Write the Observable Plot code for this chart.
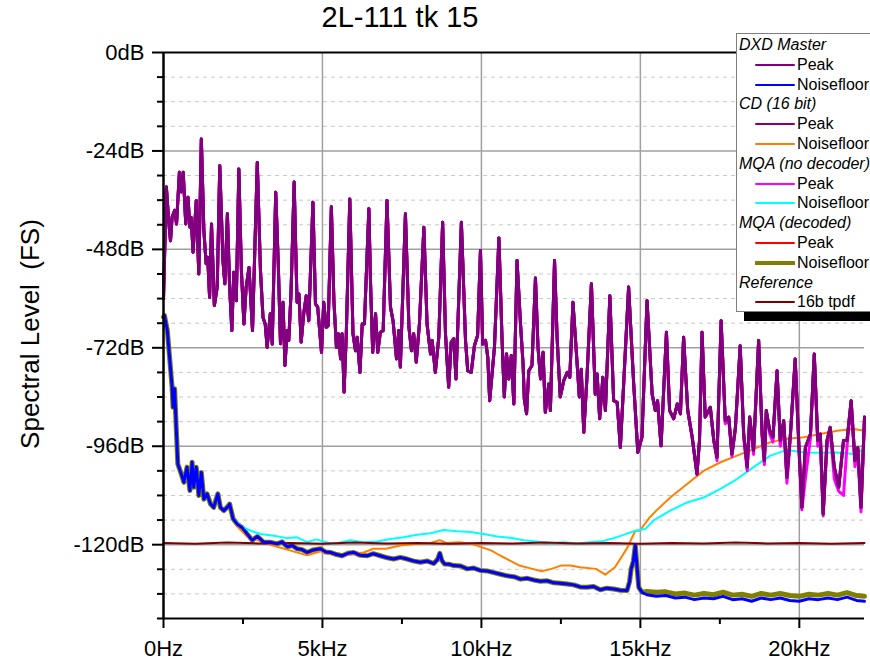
<!DOCTYPE html>
<html><head><meta charset="utf-8">
<script src="https://cdn.jsdelivr.net/npm/d3@7"></script>
<script src="https://cdn.jsdelivr.net/npm/@observablehq/plot@0.6"></script>
<style>
body{margin:0;background:#fff;font-family:"Liberation Sans",Arial,sans-serif;}
#wrap{position:relative;width:870px;height:661px;overflow:hidden;}
#title{position:absolute;left:0;width:800px;top:1px;text-align:center;font-size:29px;color:#000;}
#ylab{position:absolute;left:30px;top:334px;transform:translate(-50%,-50%) rotate(-90deg);font-size:26px;white-space:pre;color:#000;}
#legend{position:absolute;left:736px;top:33px;width:140px;height:279px;background:#fff;border:1px solid #7f7f7f;box-shadow:8px 9px 0 #000;box-sizing:border-box;font-size:16px;color:#000;}
#legend .h{position:absolute;left:2px;font-style:italic;white-space:nowrap;}
#legend .i{position:absolute;left:60px;white-space:nowrap;}
#legend svg{position:absolute;left:18px;}
</style></head><body>
<div id="wrap"><div id="title">2L-111 tk 15</div><div id="ylab">Spectral Level  (FS)</div><div id="legend"></div></div>
<script>
// x in kHz, y in dB (FS)
const xTicks = [0, 5, 10, 15, 20];
const xTickLabels = ["0Hz", "5kHz", "10kHz", "15kHz", "20kHz"];
const xMinor = [2.5, 7.5, 12.5, 17.5];
const yTicks = [0, -24, -48, -72, -96, -120];
const yMinor = [-6,-12,-18,-30,-36,-42,-54,-60,-66,-78,-84,-90,-102,-108,-114,-126,-132,-138];

const peakDXD = [[0,-60],[0.09,-32.8],[0.17,-41.7],[0.22,-45.9],[0.27,-40.2],[0.35,-38.5],[0.41,-41.8],[0.50,-29.2],[0.56,-34],[0.62,-29.2],[0.70,-41.8],[0.77,-35.3],[0.83,-42.6],[0.87,-40.2],[0.93,-48.7],[1.03,-36.1],[1.11,-54],[1.19,-21.1],[1.27,-43.4],[1.34,-51.5],[1.39,-49.9],[1.45,-59.7],[1.51,-41.8],[1.60,-61.7],[1.69,-57.2],[1.77,-27.6],[1.87,-50.7],[1.93,-56.4],[2.01,-39.3],[2.08,-57.2],[2.15,-67.8],[2.21,-53.6],[2.29,-60.5],[2.37,-28.4],[2.45,-53.2],[2.53,-66.2],[2.60,-57.2],[2.69,-52.4],[2.80,-67.8],[2.95,-26.8],[3.05,-53.2],[3.13,-64.6],[3.20,-66.2],[3.26,-71.9],[3.36,-63.7],[3.42,-71.1],[3.53,-34.1],[3.61,-51.5],[3.68,-71],[3.76,-60.9],[3.82,-76.3],[3.89,-67.8],[3.94,-70.2],[4.01,-58.9],[4.11,-31.6],[4.20,-60.9],[4.26,-58.9],[4.33,-70.6],[4.41,-63.7],[4.49,-59.3],[4.57,-65.4],[4.70,-36.5],[4.78,-61.3],[4.85,-62.1],[4.97,-73.1],[5.04,-60.9],[5.12,-67],[5.18,-66.6],[5.28,-37.6],[5.36,-60.5],[5.44,-71.9],[5.51,-68.6],[5.57,-74.7],[5.62,-68.6],[5.68,-82.8],[5.75,-68.6],[5.86,-35.7],[5.96,-68.6],[6.04,-72.7],[6.09,-69.4],[6.18,-78],[6.25,-66.2],[6.32,-66.2],[6.46,-38.1],[6.51,-55.6],[6.58,-73.1],[6.67,-63.7],[6.74,-73.1],[6.82,-68.2],[6.91,-67.8],[7.03,-36.1],[7.14,-62.1],[7.22,-65.4],[7.33,-74.7],[7.40,-67.8],[7.45,-76.7],[7.61,-39.3],[7.72,-67],[7.80,-72.7],[7.87,-68.6],[7.95,-75.5],[8.05,-66.2],[8.19,-42.6],[8.29,-66.2],[8.40,-73.5],[8.45,-70.2],[8.55,-78],[8.66,-69.4],[8.78,-41.4],[8.87,-68.6],[8.97,-81.6],[9.05,-70.6],[9.13,-69.8],[9.20,-79.6],[9.37,-41.4],[9.50,-70.2],[9.57,-77.6],[9.68,-78],[9.78,-71.5],[9.88,-69],[9.97,-48.3],[10.04,-71.1],[10.13,-70.2],[10.20,-74.3],[10.26,-84.9],[10.41,-71.9],[10.55,-45.2],[10.65,-70.2],[10.72,-84],[10.79,-73.5],[10.86,-79.6],[10.94,-73.9],[11.02,-85.7],[11.12,-50.7],[11.23,-66.2],[11.31,-75.9],[11.35,-84.5],[11.42,-88.1],[11.49,-77.6],[11.59,-76.3],[11.70,-55],[11.78,-71.9],[11.86,-79.6],[11.94,-73.1],[12.01,-87.7],[12.12,-80.8],[12.17,-87.3],[12.30,-50.7],[12.38,-69.4],[12.48,-84],[12.59,-80],[12.70,-78],[12.78,-79.2],[12.88,-60.9],[12.99,-73.5],[13.08,-84],[13.14,-77.2],[13.22,-92.6],[13.32,-79.2],[13.46,-56.4],[13.58,-83.3],[13.64,-78.4],[13.72,-89.3],[13.82,-79.2],[13.90,-87.3],[14.04,-59.3],[14.16,-84.9],[14.27,-85.3],[14.37,-96.3],[14.48,-80],[14.63,-57.2],[14.79,-80.8],[14.92,-97.5],[15.05,-93.8],[15.21,-60.5],[15.37,-83.3],[15.47,-87.3],[15.54,-84.9],[15.65,-95.9],[15.82,-68.2],[15.92,-87.3],[16.05,-89.3],[16.16,-85.7],[16.26,-88.1],[16.36,-69.4],[16.49,-87.3],[16.63,-93.8],[16.78,-102.8],[16.86,-94.6],[16.94,-68.2],[17.04,-88.9],[17.20,-86.5],[17.31,-94.6],[17.41,-98.7],[17.54,-65.4],[17.67,-89.8],[17.78,-88.9],[17.88,-97.9],[17.99,-91.4],[18.14,-71.5],[18.25,-93],[18.36,-101.1],[18.44,-88.9],[18.56,-97],[18.72,-70.2],[18.83,-93],[18.90,-99.5],[18.96,-87.3],[19.07,-92.2],[19.17,-93.8],[19.30,-77.6],[19.40,-94.6],[19.51,-89.8],[19.61,-103.6],[19.72,-93],[19.87,-74.7],[19.98,-94.6],[20.08,-110.9],[20.19,-96.3],[20.35,-93],[20.47,-73.5],[20.58,-94.6],[20.66,-93],[20.75,-112.5],[20.87,-94.6],[20.97,-91.4],[21.10,-101.1],[21.24,-106],[21.39,-94.6],[21.50,-94.6],[21.63,-84.9],[21.75,-99.5],[21.84,-96.3],[21.94,-110.9],[22.05,-88.9]];

// MQA (no decoder) peak, where it differs from the DXD trace (high band)
const mqaPeakHF = [[17.41,-99.5],[17.54,-65.4],[17.67,-90.5],[17.78,-89.5],[17.88,-98.5],[17.99,-92],[18.14,-71.5],[18.25,-94],[18.36,-102],[18.44,-89.5],[18.56,-98],[18.72,-70.2],[18.83,-94],[18.90,-100.5],[18.96,-88],[19.07,-93],[19.17,-95],[19.30,-77.6],[19.40,-96],[19.51,-91],[19.61,-105],[19.72,-94],[19.87,-74.7],[19.98,-96],[20.08,-111.5],[20.19,-104],[20.35,-94],[20.47,-73.5],[20.58,-96],[20.66,-95],[20.75,-113],[20.87,-96],[20.97,-92],[21.10,-104],[21.24,-107],[21.39,-108],[21.50,-96],[21.63,-86],[21.75,-101],[21.84,-98],[21.94,-112],[22.05,-90]];

// noise floors
const noiseLow = [[0,-64.5],[0.03,-64.1],[0.12,-67.8],[0.20,-75.1],[0.27,-81.6],[0.30,-86.5],[0.35,-82],[0.40,-91.4],[0.45,-100.3],[0.56,-102.8],[0.64,-104.8],[0.74,-101.1],[0.83,-106.8],[0.90,-99.9],[0.95,-106],[1.03,-101.1],[1.11,-108],[1.19,-102.4],[1.27,-108.9],[1.37,-107.6],[1.48,-110.1],[1.58,-110.9],[1.71,-107.6],[1.79,-110.9],[1.90,-111.7],[2.00,-110.9],[2.08,-110.1],[2.19,-113.7]];
const dxdNoiseMid = [[2.32,-115],[2.47,-115.8],[2.63,-117.4],[2.79,-118.9],[2.95,-118],[3.15,-119.4],[3.36,-119.4],[3.57,-119.8],[3.73,-119.3],[3.89,-120.5],[4.05,-120.2],[4.20,-121],[4.36,-121.2],[4.52,-121.9],[4.70,-121.3],[4.94,-121],[5.10,-121.8],[5.25,-121.9],[5.44,-122.4],[5.62,-122.7],[5.80,-122.1],[5.98,-121.9],[6.2,-122.6],[6.41,-122.7],[6.6,-122.2],[6.82,-122.7],[7.04,-123.2],[7.24,-123.5],[7.45,-123.1],[7.66,-123.5],[7.88,-124],[8.08,-124.3],[8.30,-124],[8.50,-124.6],[8.62,-123.6],[8.69,-122.1],[8.76,-123.9],[8.84,-124.7],[9.0,-124.8],[9.13,-125.1],[9.35,-125.2],[9.55,-125.9],[9.76,-125.7],[9.97,-126.3],[10.18,-126.4],[10.39,-126.8],[10.6,-127.2],[10.81,-127.6],[11.02,-127.8],[11.23,-128.4],[11.44,-128.2],[11.64,-128.6],[11.86,-128.9],[12.07,-128.8],[12.28,-129.3],[12.48,-129.4],[12.70,-129.6],[12.90,-129.8],[13.1,-130.3],[13.32,-130.4],[13.53,-130.2],[13.74,-131],[13.95,-130.6],[14.16,-130.8],[14.37,-131.1],[14.58,-131.2],[14.66,-129],[14.71,-125.9],[14.78,-124],[14.84,-120.2],[14.90,-126],[14.95,-130.4],[15.05,-131.6]];
const dxdNoiseHF = [[15.2,-132.2],[15.5,-132.6],[15.8,-132.4],[16.1,-133.0],[16.4,-132.8],[16.7,-133.4],[17.0,-133.0],[17.3,-133.2],[17.6,-132.6],[17.9,-133.4],[18.2,-133.2],[18.5,-133.8],[18.8,-133.0],[19.1,-133.4],[19.4,-133.0],[19.7,-133.6],[20.0,-133.8],[20.3,-133.2],[20.6,-133.4],[20.9,-133.0],[21.2,-133.4],[21.5,-132.8],[21.8,-133.6],[22.05,-133.8]];
const mqaDecNoiseHF = [[15.2,-131.4],[15.5,-131.6],[15.8,-131.5],[16.1,-132.0],[16.4,-131.8],[16.7,-132.3],[17.0,-131.9],[17.3,-132.2],[17.6,-131.6],[17.9,-132.3],[18.2,-132.1],[18.5,-132.6],[18.8,-131.9],[19.1,-132.3],[19.4,-131.9],[19.7,-132.4],[20.0,-132.6],[20.3,-132.1],[20.6,-132.3],[20.9,-131.9],[21.2,-132.3],[21.5,-131.7],[21.8,-132.4],[22.05,-132.6]];
const cdNoise = [[2.32,-115.6],[2.63,-118],[2.95,-118.8],[3.36,-120],[3.89,-121.2],[4.52,-122.6],[4.94,-121.6],[5.3,-122.4],[5.6,-122.7],[6.0,-122.3],[6.3,-121.9],[6.6,-121],[7.0,-121],[7.45,-120.2],[7.98,-119.8],[8.4,-119.6],[8.69,-118.9],[8.9,-119.6],[9.3,-119.4],[9.7,-119.8],[10.0,-120.6],[10.3,-121.4],[10.6,-122.7],[10.9,-123.9],[11.2,-125.1],[11.6,-125.9],[11.9,-126.5],[12.2,-125.9],[12.5,-125.1],[12.8,-125.1],[13.1,-125.5],[13.6,-125.9],[13.9,-127.3],[14.2,-125.5],[14.4,-123.1],[14.6,-120.6],[14.84,-116.6],[14.98,-116.6],[15.3,-113.3],[15.5,-111.7],[15.94,-108.5],[16.47,-105.2],[16.99,-102],[17.52,-99.9],[18.04,-98.3],[18.56,-96.7],[19.09,-95],[19.61,-94.2],[20.14,-93.8],[20.66,-93],[21.19,-92.2],[21.71,-91.8],[22.05,-92.2]];
const mqaNoise = [[2.42,-115.4],[2.74,-116.6],[3.05,-117.4],[3.47,-117.8],[3.89,-118.4],[4.2,-118.2],[4.52,-119.4],[4.8,-118.7],[5.2,-119.6],[5.36,-119.8],[5.88,-118.9],[6.3,-119.4],[6.72,-119.2],[7.14,-118.6],[7.55,-118.2],[7.98,-117.6],[8.4,-117.2],[8.81,-116.4],[9.23,-116.7],[9.65,-116.9],[10.07,-117.4],[10.49,-118],[10.91,-118.3],[11.33,-118.9],[11.75,-119.2],[12.17,-119.7],[12.59,-119.4],[13.0,-119.7],[13.43,-119.4],[13.84,-119.1],[14.16,-118.4],[14.47,-117.6],[14.84,-116.6],[15.15,-116.2],[15.42,-114.1],[15.94,-111.7],[16.47,-109.7],[16.99,-108.5],[17.52,-106.4],[18.04,-104],[18.56,-101.1],[19.09,-98.3],[19.61,-96.9],[20.14,-97.5],[20.66,-97.6],[21.19,-97.5],[21.71,-97.9],[22.05,-96.7]];
const tpdfRef = [[0,-119.6],[1,-119.8],[2,-119.5],[3,-119.7],[4,-119.6],[5,-119.8],[6,-119.5],[7,-119.7],[8,-119.6],[9,-119.8],[10,-119.6],[11,-119.7],[12,-119.5],[13,-119.7],[14,-119.6],[15,-119.8],[16,-119.6],[17,-119.7],[18,-119.5],[19,-119.7],[20,-119.6],[21,-119.8],[22.05,-119.6]];

const colors = {purple:"#800080", blue:"#0000ff", orange:"#ff8000", magenta:"#ff00ff", cyan:"#00ffff", red:"#ff0000", olive:"#808000", darkred:"#800000"};

const series = [
  {data: noiseLow.concat(dxdNoiseMid, mqaDecNoiseHF), stroke: colors.olive, w: 5},
  {data: noiseLow.concat(cdNoise), stroke: colors.orange, w: 2},
  {data: noiseLow.concat(mqaNoise), stroke: colors.cyan, w: 2},
  {data: tpdfRef, stroke: colors.darkred, w: 2},
  {data: noiseLow.concat(dxdNoiseMid, dxdNoiseHF), stroke: colors.blue, w: 3},
  {data: peakDXD, stroke: colors.red, w: 3},
  {data: peakDXD.filter(d => d[0] < 17.4).concat(mqaPeakHF), stroke: colors.magenta, w: 3},
  {data: peakDXD, stroke: colors.purple, w: 3},
  {data: peakDXD, stroke: colors.purple, w: 3}
];

const legendGroups = [
  {name:"DXD Master", items:[["Peak", colors.purple, 2], ["Noisefloor", colors.blue, 2]]},
  {name:"CD (16 bit)", items:[["Peak", colors.purple, 2], ["Noisefloor", colors.orange, 2]]},
  {name:"MQA (no decoder)", items:[["Peak", colors.magenta, 2], ["Noisefloor", colors.cyan, 2]]},
  {name:"MQA (decoded)", items:[["Peak", colors.red, 2], ["Noisefloor", colors.olive, 4]]},
  {name:"Reference", items:[["16b tpdf", colors.darkred, 2]]}
];

const fmt = d => d + "dB";
const plot = Plot.plot({
  width: 870, height: 661,
  marginTop: 52, marginBottom: 43, marginLeft: 163, marginRight: 6,
  style: {fontFamily: "'Liberation Sans', Arial, sans-serif", background: "transparent", color: "#000"},
  x: {domain: [0, 22.05]},
  y: {domain: [-138, 0]},
  marks: [
    Plot.gridY(yMinor.filter(d => d > -138), {stroke: "#c8c8c8", strokeOpacity: 1, strokeDasharray: "4,4", strokeWidth: 1}),
    Plot.gridY(yTicks.filter(d => d < 0), {stroke: "#a0a0a0", strokeOpacity: 1, strokeWidth: 1.5}),
    Plot.gridX(xTicks.filter(d => d > 0), {stroke: "#a0a0a0", strokeOpacity: 1, strokeWidth: 1.5}),
    ...series.map(s => Plot.line(s.data, {x: d => d[0], y: d => d[1], stroke: s.stroke, strokeWidth: s.w, strokeLinejoin: "round"})),
    Plot.ruleY([0], {stroke: "#000", strokeWidth: 2}),
    Plot.ruleY([-138], {stroke: "#000", strokeWidth: 2}),
    Plot.ruleX([0], {stroke: "#000", strokeWidth: 2.5}),
    Plot.axisY(yTicks, {tickSize: 11, tickPadding: 8, tickFormat: fmt, fontSize: 22, strokeWidth: 2, label: null}),
    Plot.axisY(yMinor, {tickSize: 6, tickFormat: () => "", strokeWidth: 2, label: null}),
    Plot.axisX(xTicks, {tickSize: 10, tickPadding: 12, tickFormat: (d) => xTickLabels[xTicks.indexOf(d)], fontSize: 22, strokeWidth: 2, label: null}),
    Plot.axisX(xMinor, {tickSize: 6, tickFormat: () => "", strokeWidth: 2, label: null})
  ]
});
document.getElementById("wrap").prepend(plot);
plot.style.position = "absolute"; plot.style.left = "0"; plot.style.top = "0";

// legend
const lg = document.getElementById("legend");
let row = 0;
const rowH = 19.8, y0 = 11;
for (const g of legendGroups) {
  const h = document.createElement("div");
  h.className = "h"; h.textContent = g.name; h.style.top = (y0 + row * rowH - 9) + "px";
  lg.appendChild(h); row++;
  for (const [label, color, w] of g.items) {
    const cy = y0 + row * rowH;
    const sv = document.createElementNS("http://www.w3.org/2000/svg", "svg");
    sv.setAttribute("width", 40); sv.setAttribute("height", 8);
    sv.style.top = (cy - 4) + "px";
    const ln = document.createElementNS("http://www.w3.org/2000/svg", "line");
    ln.setAttribute("x1", 1); ln.setAttribute("x2", 39); ln.setAttribute("y1", 4); ln.setAttribute("y2", 4);
    ln.setAttribute("stroke", color); ln.setAttribute("stroke-width", w); ln.setAttribute("stroke-linecap", "round");
    sv.appendChild(ln); lg.appendChild(sv);
    const t = document.createElement("div");
    t.className = "i"; t.textContent = label; t.style.top = (cy - 9) + "px";
    lg.appendChild(t); row++;
  }
}
</script>
</body></html>
